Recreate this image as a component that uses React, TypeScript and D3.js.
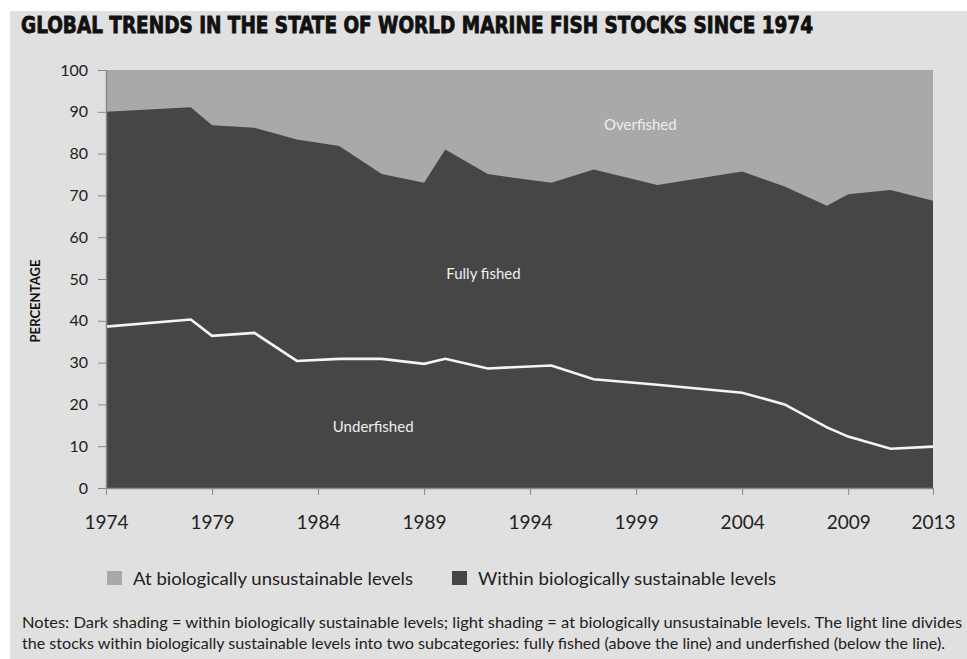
import React, { useEffect, useRef } from "react";
import * as d3 from "d3";

// data
const years = [1974, 1978, 1979, 1981, 1983, 1985, 1987, 1989, 1990, 1992, 1995, 1997, 2000, 2004, 2006, 2008, 2009, 2011, 2013];
const sustainable = [90.0, 91.1, 86.8, 86.2, 83.4, 81.8, 75.1, 73.0, 81.0, 75.1, 73.0, 76.2, 72.5, 75.7, 72.1, 67.5, 70.3, 71.3, 68.7];
const underfished = [38.6, 40.3, 36.4, 37.1, 30.4, 30.9, 30.9, 29.7, 30.9, 28.6, 29.3, 26.0, 24.7, 22.8, 20.0, 14.5, 12.3, 9.4, 9.9];
const xTicks = [1974, 1979, 1984, 1989, 1994, 1999, 2004, 2009, 2013];
const yTicks = [0, 10, 20, 30, 40, 50, 60, 70, 80, 90, 100];
const legendItems = ["At biologically unsustainable levels", "Within biologically sustainable levels"];
const notes = [
	"Notes: Dark shading = within biologically sustainable levels; light shading = at biologically unsustainable levels. The light line divides",
	"the stocks within biologically sustainable levels into two subcategories: fully fished (above the line) and underfished (below the line).",
];

const W = 967;
const H = 659;
const FONT = "Lato, 'Noto Sans', sans-serif";
const LIGHT = "#a9a9a9";
const DARK = "#464646";

export default function App() {
	const svgRef = useRef<SVGSVGElement | null>(null);

	useEffect(() => {
		document.body.style.margin = "0";
		if (!svgRef.current) return;
		const svg = d3.select(svgRef.current);
		svg.selectAll("*").remove();

		const margin = { top: 70, right: 34, bottom: 171, left: 106 };
		const innerW = W - margin.left - margin.right;
		const innerH = H - margin.top - margin.bottom;

		const x = d3.scaleLinear().domain([1974, 2013]).range([0, innerW]);
		const y = d3.scaleLinear().domain([0, 100]).range([innerH, 0]);

		svg.append("rect").attr("width", W).attr("height", H).attr("fill", "#fff");
		svg.append("rect").attr("x", 10).attr("y", 11).attr("width", W - 10).attr("height", H - 11).attr("fill", "#e0e0e0");

		// title
		svg
			.append("text")
			.attr("x", 21)
			.attr("y", 32.5)
			.attr("font-family", "'DejaVu Sans Condensed', 'Liberation Sans Narrow', sans-serif")
			.attr("font-weight", "bold")
			.attr("font-size", 23)
			.attr("textLength", 792)
			.attr("lengthAdjust", "spacingAndGlyphs")
			.attr("fill", "#111")
			.attr("stroke", "#111")
			.attr("stroke-width", 0.8)
			.text("GLOBAL TRENDS IN THE STATE OF WORLD MARINE FISH STOCKS SINCE 1974");

		const g = svg.append("g").attr("transform", `translate(${margin.left},${margin.top})`);

		// overfished background
		g.append("rect").attr("width", innerW).attr("height", innerH).attr("fill", LIGHT);

		const rows = years.map((yr, i) => ({ yr, top: sustainable[i], line: underfished[i] }));

		const area = d3
			.area<(typeof rows)[number]>()
			.x((d) => x(d.yr))
			.y0(y(0))
			.y1((d) => y(d.top));
		g.append("path").datum(rows).attr("d", area).attr("fill", DARK);

		const line = d3
			.line<(typeof rows)[number]>()
			.x((d) => x(d.yr))
			.y((d) => y(d.line));
		g.append("path")
			.datum(rows)
			.attr("d", line)
			.attr("fill", "none")
			.attr("stroke", "#f4f4f4")
			.attr("stroke-width", 2.6)
			.attr("stroke-linejoin", "miter");

		// axes
		const yAxis = g
			.append("g")
			.call(d3.axisLeft(y).tickValues(yTicks).tickSize(8).tickPadding(10).tickSizeOuter(0));
		yAxis.select(".domain").attr("stroke", "#8a8a8a").attr("stroke-width", 1.5);
		yAxis.selectAll(".tick line").attr("stroke", "#8a8a8a");
		yAxis.selectAll(".tick text").attr("font-family", FONT).attr("font-size", 16).attr("fill", "#222");

		const xAxis = g
			.append("g")
			.attr("transform", `translate(0,${innerH})`)
			.call(d3.axisBottom(x).tickValues(xTicks).tickFormat(d3.format("d")).tickSize(7).tickPadding(21).tickSizeOuter(0));
		xAxis.select(".domain").attr("stroke", "#8a8a8a").attr("stroke-width", 1.5);
		xAxis.selectAll(".tick line").attr("stroke", "#8a8a8a");
		xAxis.selectAll(".tick text").attr("font-family", FONT).attr("font-size", 19).attr("fill", "#222");

		// area labels
		const labels = [
			{ text: "Overfished", yr: 1999.2, v: 85.6 },
			{ text: "Fully fished", yr: 1991.8, v: 50 },
			{ text: "Underfished", yr: 1986.6, v: 13.5 },
		];
		g.selectAll(".area-label")
			.data(labels)
			.enter()
			.append("text")
			.attr("class", "area-label")
			.attr("x", (d) => x(d.yr))
			.attr("y", (d) => y(d.v))
			.attr("text-anchor", "middle")
			.attr("font-family", FONT)
			.attr("font-size", 15)
			.attr("fill", "#eeeeee")
			.text((d) => d.text);

		// y label
		svg
			.append("text")
			.attr("transform", "translate(40,301) rotate(-90)")
			.attr("text-anchor", "middle")
			.attr("font-family", FONT)
			.attr("font-weight", "bold")
			.attr("font-size", 12.5)
			.attr("textLength", 83)
			.attr("lengthAdjust", "spacingAndGlyphs")
			.attr("fill", "#111")
			.text("PERCENTAGE");

		// legend
		const legendX = [107, 452];
		const legendW = [280, 298];
		const legend = svg
			.selectAll(".legend")
			.data(legendItems)
			.enter()
			.append("g")
			.attr("class", "legend")
			.attr("transform", (_, i) => `translate(${legendX[i]},571)`);
		legend
			.append("rect")
			.attr("width", 15)
			.attr("height", 14)
			.attr("fill", (_, i) => (i === 0 ? LIGHT : DARK));
		legend
			.append("text")
			.attr("x", 26)
			.attr("y", 13.5)
			.attr("font-family", FONT)
			.attr("font-size", 18)
			.attr("fill", "#222")
			.attr("textLength", (_, i) => legendW[i])
			.attr("lengthAdjust", "spacingAndGlyphs")
			.text((d) => d);

		// notes
		const noteEnd = [962, 945];
		svg
			.selectAll(".note")
			.data(notes)
			.enter()
			.append("text")
			.attr("class", "note")
			.attr("x", 22)
			.attr("y", (_, i) => 628 + i * 20.5)
			.attr("font-family", FONT)
			.attr("font-size", 15)
			.attr("fill", "#222")
			.attr("textLength", (_, i) => noteEnd[i] - 22)
			.attr("lengthAdjust", "spacingAndGlyphs")
			.text((d) => d);
	}, []);

	return <svg ref={svgRef} width={W} height={H} style={{ display: "block" }} />;
}
